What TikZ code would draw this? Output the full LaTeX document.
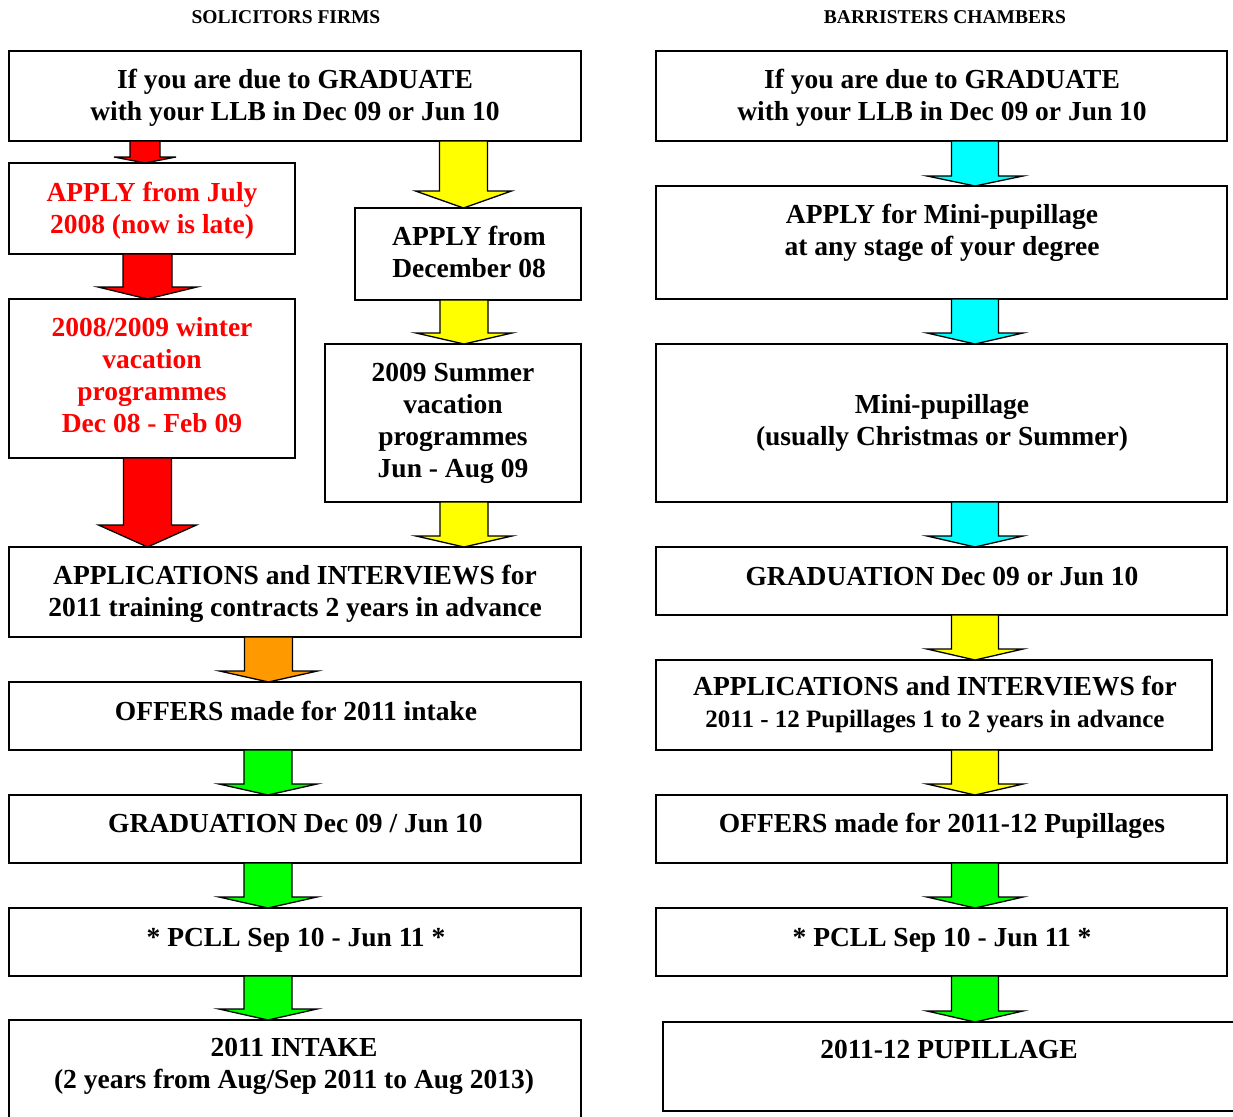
\documentclass[tikz,border=0pt]{standalone}
\usepackage{fontspec}
\setmainfont{Liberation Serif}
\usetikzlibrary{calc}

\definecolor{flowred}{RGB}{255,0,0}
\definecolor{flowyellow}{RGB}{255,255,0}
\definecolor{flowcyan}{RGB}{0,255,255}
\definecolor{floworange}{RGB}{255,153,0}
\definecolor{flowgreen}{RGB}{0,255,0}

\tikzset{
  box/.style={draw, line width=1.8pt, anchor=north west, inner sep=0pt, outer sep=0pt},
  boxtext/.style={align=center, font=\bfseries\fontsize{27.5}{32}\selectfont},
  colhead/.style={anchor=base, font=\bfseries\fontsize{19.5}{22}\selectfont}
}

% fat block arrow: colour, from node, to node, x, shaft half width, head half width, head length
\newcommand\blockarrow[7]{%
  \draw[fill=#1, line width=1.3pt, line join=miter]
    let \p1=(#2.south), \p2=(#3.north) in
    ({#4pt-#5pt},\y1) -- ({#4pt+#5pt},\y1) -- ({#4pt+#5pt},{\y2+#7pt})
    -- ({#4pt+#6pt},{\y2+#7pt}) -- (#4pt,\y2) -- ({#4pt-#6pt},{\y2+#7pt})
    -- ({#4pt-#5pt},{\y2+#7pt}) -- cycle;}

\begin{document}
\begin{tikzpicture}[x=1pt, y=-1pt]
  \useasboundingbox (0,0) rectangle (1233,1116);
  \clip (0,0) rectangle (1233,1116);

  % column headings
  \node[colhead] (solhead) at (286,24) {SOLICITORS FIRMS};
  \node[colhead] (barhead) at (945,24) {BARRISTERS CHAMBERS};

  % solicitors
  \node[box, minimum width=572, minimum height=90] (sol1) at (9,51) {};
  \node[box, minimum width=286, minimum height=91] (sol2) at (9,163) {};
  \node[box, minimum width=286, minimum height=159] (sol3) at (9,299) {};
  \node[box, minimum width=226, minimum height=92] (sol2b) at (355,208) {};
  \node[box, minimum width=256, minimum height=158] (sol3b) at (325,344) {};
  \node[box, minimum width=572, minimum height=90] (sol4) at (9,547) {};
  \node[box, minimum width=572, minimum height=68] (sol5) at (9,682) {};
  \node[box, minimum width=572, minimum height=68] (sol6) at (9,795) {};
  \node[box, minimum width=572, minimum height=68] (sol7) at (9,908) {};
  \node[box, minimum width=572, minimum height=110] (sol8) at (9,1020) {};

  \node[boxtext] (sol1txt) at (295,98) {If you are due to GRADUATE\\with your LLB in Dec 09 or Jun 10};
  \node[boxtext, text=flowred] (sol2txt) at (152,211) {APPLY from July\\2008 (now is late)};
  \node[boxtext, text=flowred] (sol3txt) at (152,375) {2008/2009 winter\\vacation\\programmes\\Dec 08 - Feb 09};
  \node[boxtext] (sol2btxt) at (469,252) {APPLY from\\December 08};
  \node[boxtext] (sol3btxt) at (453,423) {2009 Summer\\vacation\\programmes\\Jun - Aug 09};
  \node[boxtext] (sol4txt) at (295,594) {APPLICATIONS and INTERVIEWS for\\2011 training contracts 2 years in advance};
  \node[boxtext] (sol5txt) at (296,711) {OFFERS made for 2011 intake};
  \node[boxtext] (sol6txt) at (295.5,824) {GRADUATION Dec 09 / Jun 10};
  \node[boxtext] (sol7txt) at (296,940) {* PCLL Sep 10 - Jun 11 *};
  \node[boxtext] (sol8txt) at (294,1066) {2011 INTAKE\\(2 years from Aug/Sep 2011 to Aug 2013)};

  \blockarrow{flowred}{sol1}{sol2}{145}{15}{31}{6}
  \blockarrow{flowred}{sol2}{sol3}{147.5}{24.5}{49.5}{12}
  \blockarrow{flowred}{sol3}{sol4}{147.5}{24}{49}{22}
  \blockarrow{flowyellow}{sol1}{sol2b}{463.5}{24}{48}{17}
  \blockarrow{flowyellow}{sol2b}{sol3b}{464}{24}{48}{11}
  \blockarrow{flowyellow}{sol3b}{sol4}{464}{24}{48}{11}
  \blockarrow{floworange}{sol4}{sol5}{268.5}{24}{49}{11}
  \blockarrow{flowgreen}{sol5}{sol6}{268}{24}{49}{11}
  \blockarrow{flowgreen}{sol6}{sol7}{268}{24}{49}{11}
  \blockarrow{flowgreen}{sol7}{sol8}{268}{24}{49}{11}

  % barristers
  \node[box, minimum width=571, minimum height=90] (bar1) at (656,51) {};
  \node[box, minimum width=571, minimum height=113] (bar2) at (656,186) {};
  \node[box, minimum width=571, minimum height=158] (bar3) at (656,344) {};
  \node[box, minimum width=571, minimum height=68] (bar4) at (656,547) {};
  \node[box, minimum width=556, minimum height=90] (bar5) at (656,660) {};
  \node[box, minimum width=571, minimum height=68] (bar6) at (656,795) {};
  \node[box, minimum width=571, minimum height=68] (bar7) at (656,908) {};
  \node[box, minimum width=572, minimum height=89] (bar8) at (663,1022) {};

  \node[boxtext] (bar1txt) at (942,98) {If you are due to GRADUATE\\with your LLB in Dec 09 or Jun 10};
  \node[boxtext] (bar2txt) at (942,233) {APPLY for Mini-pupillage\\at any stage of your degree};
  \node[boxtext] (bar3txt) at (942,423) {Mini-pupillage\\(usually Christmas or Summer)};
  \node[boxtext] (bar4txt) at (942,577) {GRADUATION Dec 09 or Jun 10};
  \node[boxtext] (bar5txt) at (935,704.5) {APPLICATIONS and INTERVIEWS for\\{\fontsize{25}{31}\selectfont 2011 - 12 Pupillages 1 to 2 years in advance}};
  \node[boxtext] (bar6txt) at (942,826) {OFFERS made for 2011-12 Pupillages};
  \node[boxtext] (bar7txt) at (942,940) {* PCLL Sep 10 - Jun 11 *};
  \node[boxtext] (bar8txt) at (949,1049) {2011-12 PUPILLAGE};

  \blockarrow{flowcyan}{bar1}{bar2}{975}{23.5}{48}{10}
  \blockarrow{flowcyan}{bar2}{bar3}{975}{23.5}{48}{11}
  \blockarrow{flowcyan}{bar3}{bar4}{975}{23.5}{48}{11}
  \blockarrow{flowyellow}{bar4}{bar5}{975}{23.5}{48}{11}
  \blockarrow{flowyellow}{bar5}{bar6}{975}{23.5}{48}{11}
  \blockarrow{flowgreen}{bar6}{bar7}{975}{23.5}{48}{11}
  \blockarrow{flowgreen}{bar7}{bar8}{975}{23.5}{48}{11}
\end{tikzpicture}
\end{document}
